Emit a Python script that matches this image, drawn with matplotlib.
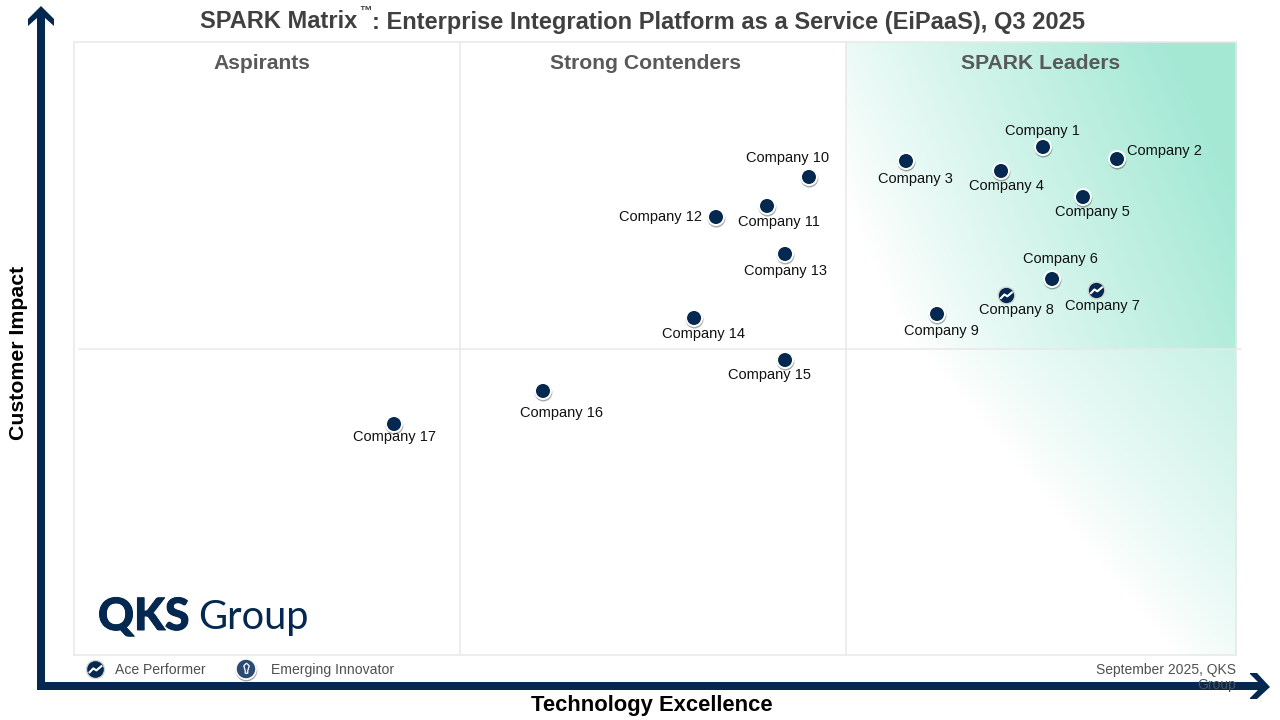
import numpy as np
import matplotlib
matplotlib.use("Agg")
import matplotlib.pyplot as plt
from matplotlib.path import Path
from matplotlib.patches import Polygon
import matplotlib.patheffects as pe

plt.rcParams['font.family'] = ['Liberation Sans', 'DejaVu Sans']

companies = ["Company 1", "Company 2", "Company 3", "Company 4", "Company 5", "Company 6",
             "Company 7", "Company 8", "Company 9", "Company 10", "Company 11", "Company 12",
             "Company 13", "Company 14", "Company 15", "Company 16", "Company 17"]
tech_excellence = [83.39, 89.76, 71.60, 79.78, 86.83, 84.17, 87.95, 80.21, 74.27,
                   63.25, 59.64, 55.25, 61.19, 53.36, 61.19, 40.36, 27.54]
customer_impact = [82.87, 80.91, 80.59, 78.96, 74.71, 61.34, 59.54, 58.73, 55.63,
                   77.98, 73.25, 71.45, 65.42, 54.98, 48.12, 43.07, 37.68]
ace_performers = ["Company 7", "Company 8"]
quadrants = ["Aspirants", "Strong Contenders", "SPARK Leaders"]
x_splits = [33.2, 66.4]
y_split = 49.9

# label offset from the point, in pixels
label_dx = [-1, 47, 9, 5, 9, 8, 6, 10, 4, -21, 12, -56, 0, 9, -16, 19, 0]
label_dy = [17, 9, -17, -14, -14, 21, -15, -14, -16, 20, -15, 1, -16, -15, -14, -21, -12]

navy = "#04284f"
grid = "#e8e8e8"

fig = plt.figure(figsize=(12.8, 7.2), dpi=100)
ax = fig.add_axes([74/1280, 65/720, 1162/1280, 613/720])
ax.set_xlim(0, 100)
ax.set_ylim(0, 100)
ax.set_xticks([])
ax.set_yticks([])
for s in ax.spines.values():
    s.set_color(grid)
    s.set_linewidth(1.1)

# leaders gradient, two pieces that do not quite meet at the middle line
mint = np.array([0.645, 0.913, 0.835])
u, w = np.meshgrid(np.linspace(0, 1, 200), np.linspace(0, 1, 160))
t_up = np.clip(u + 0.35 * w - 0.17, 0, 1) ** 0.9
t_low = np.clip((u + 0.65 * w - 0.85) / 1.4, 0, 1) ** 0.85
ax.imshow(1 - t_up[..., None] * (1 - mint), origin="lower", aspect="auto", zorder=0,
          extent=[x_splits[1], 100, y_split, 100])
ax.imshow(1 - t_low[..., None] * (1 - mint), origin="lower", aspect="auto", zorder=0,
          extent=[x_splits[1], 100, 0, y_split])
ax.set_xlim(0, 100)
ax.set_ylim(0, 100)

for xs in x_splits:
    ax.plot([xs, xs], [0, 100], color=grid, lw=1.1, zorder=1)
ax.plot([0.4, 100.4], [y_split, y_split], color=grid, lw=1.1, zorder=1, clip_on=False)

quad_centers = [16.2, 49.2, 83.2]
for qc, q in zip(quad_centers, quadrants):
    ax.text(qc, 96.55, q, ha="center", va="center", fontsize=15.2, fontweight="bold", color="#595959")

shadow = [pe.SimpleLineShadow(offset=(0.3, -1.1), shadow_color="#444444", alpha=0.45), pe.Normal()]
plain = [i for i, c in enumerate(companies) if c not in ace_performers]
ace = [i for i, c in enumerate(companies) if c in ace_performers]
ax.plot([tech_excellence[i] for i in plain], [customer_impact[i] for i in plain], ls="none", marker="o",
        ms=11.5, mfc=navy, mec="white", mew=1.4, zorder=3, path_effects=shadow)
ax.plot([tech_excellence[i] for i in ace], [customer_impact[i] for i in ace], ls="none", marker="o",
        ms=12, mfc=navy, mec="#d4d4d4", mew=1.0, zorder=3)

zigzag = Path([(-0.6, -0.32), (-0.2, 0.1), (0.08, -0.08), (0.6, 0.36)])
ax.plot([tech_excellence[i] for i in ace], [customer_impact[i] for i in ace], ls="none", marker=zigzag,
        ms=9, mfc="none", mec="white", mew=1.5, zorder=4)

for name, x, y, dx, dy in zip(companies, tech_excellence, customer_impact, label_dx, label_dy):
    ax.annotate(name, (x, y), xytext=(dx, dy - 1), textcoords="offset pixels", ha="center", va="center",
                fontsize=10.5, color="#111111", zorder=5)

# everything outside the plot area, in pixel coordinates
ov = fig.add_axes([0, 0, 1, 1], zorder=5)
ov.set_xlim(0, 1280)
ov.set_ylim(720, 0)
ov.axis("off")

ov.add_patch(Polygon([(37, 690), (37, 18), (28, 26), (28, 19), (41, 6), (54, 19), (54, 26), (45, 18),
                      (45, 682), (1258, 682), (1250, 674), (1250, 673), (1257, 673), (1270, 687), (1257, 699),
                      (1250, 699), (1250, 698), (1258, 690)], closed=True, fc=navy, ec="none"))

title_col = "#404040"
ov.text(200, 22, "SPARK Matrix", ha="left", va="center", fontsize=17, fontweight="bold", color=title_col)
ov.text(359, 12, "\u2122", ha="left", va="center", fontsize=9, fontweight="bold", color=title_col)
ov.text(372, 22, ": Enterprise Integration Platform as a Service (EiPaaS), Q3 2025",
        ha="left", va="center", fontsize=17, fontweight="bold", color=title_col)
ov.text(19, 353, "Customer Impact", rotation=90, ha="center", va="center", fontsize=15.3, fontweight="bold", color="black")
ov.text(651.5, 705, "Technology Excellence", ha="center", va="center", fontsize=15.8, fontweight="bold", color="black")

logo_bold = [pe.withStroke(linewidth=0.7, foreground=navy)]
ov.text(98, 617, "QKS", ha="left", va="center", fontsize=32, fontweight="black", family="Lato", color=navy,
        path_effects=logo_bold)
ov.text(198, 617, "Group", ha="left", va="center", fontsize=28.7, family="Lato", color=navy)

ov.plot([95], [669], ls="none", marker="o", ms=13, mfc=navy, mec="#d4d4d4", mew=1.0)
ov.plot([95], [669], ls="none", marker=zigzag, ms=9.5, mfc="none", mec="white", mew=1.5)
ov.text(115, 670, "Ace Performer", ha="left", va="center", fontsize=10.05, color="#505050")

bulb = Path([(-0.22, 0.3), (-0.1, -0.1), (-0.1, -0.3), (0.1, -0.3), (0.1, -0.1), (0.22, 0.3), (0, 0.5), (-0.22, 0.3)])
ov.plot([246], [669], ls="none", marker="o", ms=14.5, mfc="#2b4b75", mec="white", mew=1.2, path_effects=shadow)
ov.plot([246], [669], ls="none", marker=bulb, ms=9, mfc="none", mec="white", mew=0.9)
ov.text(271, 670, "Emerging Innovator", ha="left", va="center", fontsize=10.05, color="#505050")

ov.text(1236, 670, "September 2025, QKS", ha="right", va="center", fontsize=10, color="#505050")
ov.text(1236, 685, "Group", ha="right", va="center", fontsize=10, color="#505050")

fig.savefig("out.png", dpi=100)
